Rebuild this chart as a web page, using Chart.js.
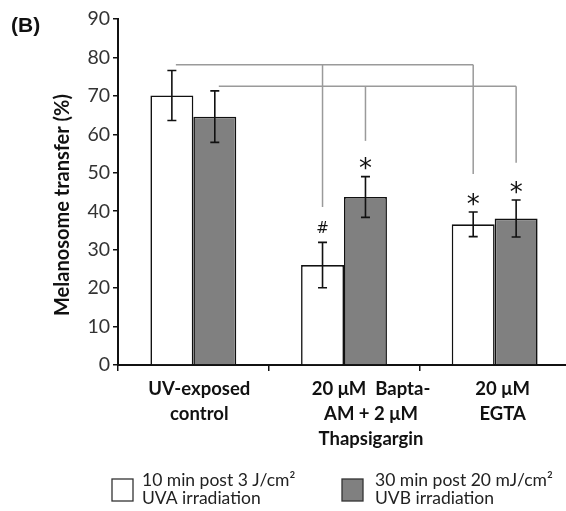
<!DOCTYPE html>
<html><head><meta charset="utf-8">
<script src="https://cdn.jsdelivr.net/npm/chart.js@4"></script>
<style>
html,body{margin:0;padding:0;overflow:hidden;background:#fff}
#wrap{width:566px;height:511px;overflow:hidden;position:relative}
canvas{position:absolute;left:0;top:0}
</style>
</head><body><div id="wrap"><canvas id="c" width="570" height="511"></canvas></div>
<script>
// ---- data ----
const categories = [["UV-exposed","control"],["20 μM  Bapta-","AM + 2 μM","Thapsigargin"],["20 μM","EGTA"]];
const seriesNames = [["10 min post 3 J/cm²","UVA irradiation"],["30 min post 20 mJ/cm²","UVB irradiation"]];
const uvaValues = [70.1, 26.0, 36.6];
const uvbValues = [64.6, 43.7, 38.1];
const uvaErrors = [6.5, 5.9, 3.2];
const uvbErrors = [6.7, 5.3, 4.8];
const uvaMarks = ["", "#", "*"];
const uvbMarks = ["", "*", "*"];
const yTicks = [0,10,20,30,40,50,60,70,80,90];
const yTitle = "Melanosome transfer (%)";
const panelLabel = "(B)";
// significance brackets: [series, fromCategory, levelValue, [[toCategory, dropToValue], ...]]
const bracketUVA = [0, 0, 78.1, [[1, 41.1], [2, 49.7]]];
const bracketUVB = [1, 0, 72.5, [[1, 58.3], [2, 52.6]]];

const FONT = "Lato, 'Open Sans', sans-serif";
const labelOffsets = [6, 27, 8];

const overlay = {
  id: 'overlay',
  afterDatasetsDraw(chart) {
    const ctx = chart.ctx;
    const y = chart.scales.y, x = chart.scales.x;
    const errs = [uvaErrors, uvbErrors];
    const marks = [uvaMarks, uvbMarks];
    // brackets
    ctx.save();
    ctx.strokeStyle = '#9a9a9a';
    ctx.lineWidth = 1.5;
    [bracketUVA, bracketUVB].forEach(b => {
      const meta = chart.getDatasetMeta(b[0]);
      const x0 = meta.data[b[1]].x + 4;
      const ly = y.getPixelForValue(b[2]);
      let xmax = x0;
      b[3].forEach(t => { xmax = Math.max(xmax, meta.data[t[0]].x); });
      ctx.beginPath(); ctx.moveTo(x0, ly); ctx.lineTo(xmax, ly); ctx.stroke();
      b[3].forEach(t => {
        const xx = meta.data[t[0]].x;
        ctx.beginPath(); ctx.moveTo(xx, ly); ctx.lineTo(xx, y.getPixelForValue(t[1])); ctx.stroke();
      });
    });
    ctx.restore();
    // error bars and marks
    ctx.save();
    ctx.strokeStyle = '#111';
    ctx.lineWidth = 1.6;
    [0,1].forEach(d => {
      const meta = chart.getDatasetMeta(d);
      meta.data.forEach((bar, i) => {
        const v = chart.data.datasets[d].data[i];
        const e = errs[d][i];
        const yt = y.getPixelForValue(v + e), yb = y.getPixelForValue(v - e);
        ctx.beginPath();
        ctx.moveTo(bar.x, yt); ctx.lineTo(bar.x, yb);
        ctx.moveTo(bar.x - 4.5, yt); ctx.lineTo(bar.x + 4.5, yt);
        ctx.moveTo(bar.x - 4.5, yb); ctx.lineTo(bar.x + 4.5, yb);
        ctx.stroke();
        const m = marks[d][i];
        if (m) {
          ctx.fillStyle = '#111';
          ctx.textAlign = 'center';
          ctx.textBaseline = 'middle';
          if (m === '*') {
            ctx.font = "26px 'DejaVu Sans'";
            ctx.fillText(m, bar.x, yt - 6);
          } else {
            ctx.font = "15px 'DejaVu Sans'";
            ctx.fillText(m, bar.x, yt - 13);
          }
        }
      });
    });
    ctx.restore();
  },
  afterDraw(chart) {
    const ctx = chart.ctx;
    const x = chart.scales.x, y = chart.scales.y;
    ctx.save();
    // x labels
    ctx.fillStyle = '#111';
    ctx.font = "bold 18.5px " + FONT;
    ctx.textAlign = 'center';
    ctx.textBaseline = 'alphabetic';
    categories.forEach((lines, i) => {
      const cx = x.getPixelForValue(i) + labelOffsets[i];
      lines.forEach((ln, k) => ctx.fillText(ln, cx, y.bottom + 30 + k * 25));
    });
    // y title
    ctx.save();
    ctx.translate(69, (y.top + y.bottom) / 2 + 13);
    ctx.rotate(-Math.PI / 2);
    ctx.font = "bold 20px " + FONT;
    ctx.textAlign = 'center';
    ctx.textBaseline = 'alphabetic';
    ctx.fillText(yTitle, 0, 0);
    ctx.restore();
    // panel label
    ctx.font = "bold 21px 'Liberation Sans', Arial, sans-serif";
    ctx.textAlign = 'left';
    ctx.fillText(panelLabel, 11, 32);
    // legend
    const fills = ['#ffffff', '#808080'];
    const boxX = [112, 342];
    const textX = [142, 375];
    ctx.font = "17.5px " + FONT;
    ctx.lineWidth = 1.3;
    ctx.strokeStyle = '#333';
    [0,1].forEach(d => {
      ctx.fillStyle = fills[d];
      ctx.fillRect(boxX[d], 479, 21, 22);
      ctx.strokeRect(boxX[d], 479, 21, 22);
      ctx.fillStyle = '#222';
      ctx.fillText(seriesNames[d][0], textX[d], 486);
      ctx.fillText(seriesNames[d][1], textX[d], 504);
    });
    ctx.restore();
  }
};

new Chart(document.getElementById('c'), {
  type: 'bar',
  data: {
    labels: categories,
    datasets: [
      { label: seriesNames[0].join(' '), data: uvaValues, backgroundColor: '#ffffff', borderColor: '#111', borderWidth: 1.6, borderSkipped: 'bottom' },
      { label: seriesNames[1].join(' '), data: uvbValues, backgroundColor: '#808080', borderColor: '#111', borderWidth: 1.6, borderSkipped: 'bottom' }
    ]
  },
  options: {
    responsive: false,
    animation: false,
    events: [],
    layout: { padding: { top: 19, left: 0, right: 0, bottom: 0 } },
    plugins: { legend: { display: false }, tooltip: { enabled: false } },
    datasets: { bar: { categoryPercentage: 0.57, barPercentage: 1.0 } },
    scales: {
      x: {
        offset: true,
        grid: { offset: true, drawOnChartArea: false, tickLength: 6, color: '#111', lineWidth: 1.5 },
        border: { color: '#111', width: 2 },
        ticks: { display: false },
        afterFit(s) { s.height = 146; }
      },
      y: {
        min: 0, max: 90,
        afterBuildTicks(s) { s.ticks = yTicks.map(v => ({ value: v })); },
        grid: { drawOnChartArea: false, tickLength: 5, color: '#111', lineWidth: 1.5 },
        border: { color: '#111', width: 2 },
        ticks: { color: '#333', font: { size: 19.5, family: FONT }, padding: 3 },
        afterFit(s) { s.width = 118; }
      }
    }
  },
  plugins: [overlay]
});
</script>
</body></html>
